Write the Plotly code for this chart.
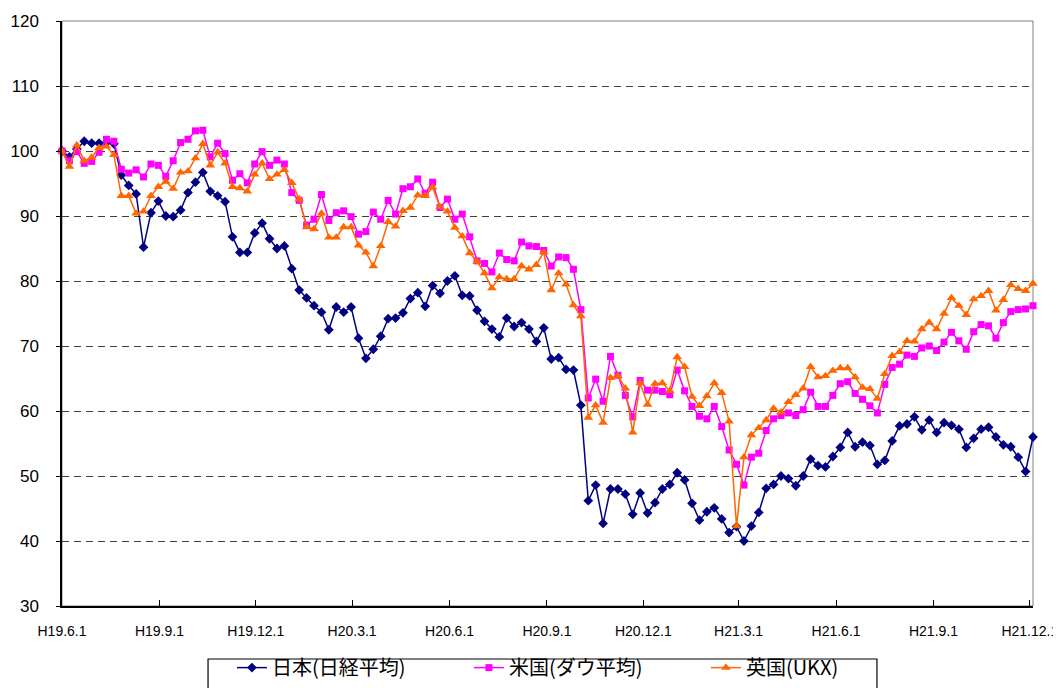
import pandas as pd
import plotly.graph_objects as go

start_date = "2007-06-01"
n_points = 132
dates = pd.date_range(start_date, periods=n_points, freq="7D")

nikkei = [100.0, 99.1, 100.3, 101.5, 101.2, 101.2, 101.3, 101.1, 96.3, 94.7,
          93.4, 85.2, 90.5, 92.3, 90.0, 89.9, 90.9, 93.6, 95.2, 96.7,
          93.8, 93.1, 92.2, 86.8, 84.4, 84.4, 87.4, 88.9, 86.5, 85.0,
          85.4, 81.9, 78.6, 77.4, 76.2, 75.2, 72.5, 76.0, 75.2, 76.0,
          71.2, 68.1, 69.5, 71.5, 74.2, 74.3, 75.1, 77.3, 78.2, 76.1,
          79.3, 78.1, 80.0, 80.8, 77.8, 77.7, 75.5, 73.8, 72.6, 71.4,
          74.3, 73.0, 73.6, 72.6, 70.7, 72.8, 68.0, 68.2, 66.4, 66.3,
          60.9, 46.2, 48.6, 42.7, 48.0, 48.0, 47.2, 44.1, 47.4, 44.3,
          45.9, 48.0, 48.7, 50.5, 49.4, 45.8, 43.2, 44.5, 45.1, 43.4,
          41.3, 42.2, 40.0, 42.3, 44.4, 48.1, 48.7, 50.0, 49.6, 48.5,
          50.0, 52.6, 51.6, 51.4, 53.0, 54.4, 56.7, 54.5, 55.2, 54.7,
          51.8, 52.4, 55.4, 57.7, 58.0, 59.1, 57.1, 58.6, 56.7, 58.2,
          57.8, 57.2, 54.4, 55.8, 57.2, 57.5, 56.0, 54.8, 54.5, 52.9,
          50.7, 56.0]

dow = [100.0, 98.5, 99.9, 98.1, 98.4, 99.8, 101.8, 101.5, 97.2, 96.6,
       97.1, 96.0, 98.0, 97.8, 96.1, 98.5, 101.3, 101.8, 103.1, 103.2,
       99.1, 101.2, 99.6, 95.5, 96.5, 95.1, 98.0, 99.9, 97.8, 98.6,
       98.0, 93.6, 92.4, 88.6, 89.5, 93.3, 89.3, 90.5, 90.8, 89.9,
       87.2, 87.6, 90.6, 89.5, 92.4, 90.3, 94.2, 94.5, 95.7, 93.5,
       95.2, 91.3, 92.6, 89.5, 90.3, 86.8, 83.1, 82.7, 81.4, 84.3,
       83.3, 83.1, 86.0, 85.4, 85.3, 84.7, 82.3, 83.7, 83.6, 81.8,
       75.6, 62.0, 64.9, 61.5, 68.4, 65.5, 62.4, 59.1, 64.7, 63.2,
       63.2, 63.0, 62.5, 66.3, 63.1, 60.7, 59.2, 58.8, 60.7, 57.6,
       54.0, 51.8, 48.6, 52.9, 53.5, 57.0, 58.8, 59.3, 59.7, 59.3,
       60.2, 62.9, 60.7, 60.7, 62.4, 64.2, 64.5, 62.7, 61.8, 60.8,
       59.7, 64.1, 66.7, 67.2, 68.6, 68.4, 69.7, 70.0, 69.3, 70.6,
       72.1, 70.8, 69.5, 72.2, 73.3, 73.1, 71.2, 73.6, 75.3, 75.6,
       75.7, 76.2]

ukx = [100.0, 97.6, 100.9, 98.5, 99.0, 100.5, 100.7, 99.4, 93.1, 93.1,
       90.4, 90.7, 93.1, 94.5, 95.3, 94.2, 96.7, 96.9, 98.9, 101.1,
       97.8, 99.8, 98.1, 94.5, 94.3, 93.8, 96.4, 98.1, 95.7, 96.4,
       97.1, 95.1, 92.6, 88.3, 88.0, 90.4, 86.7, 86.7, 88.3, 88.3,
       85.5, 84.4, 82.3, 85.4, 89.1, 88.4, 90.8, 91.3, 93.2, 93.1,
       94.4, 91.4, 90.7, 88.2, 86.9, 84.3, 83.0, 81.2, 78.9, 80.6,
       80.3, 80.3, 82.3, 81.8, 82.5, 84.4, 78.6, 81.2, 79.5, 76.3,
       74.6, 59.0, 60.9, 58.2, 65.1, 65.4, 63.5, 56.7, 64.3, 61.0,
       64.2, 64.3, 63.1, 68.3, 66.8, 62.2, 60.8, 62.3, 64.3, 62.8,
       58.4, 42.3, 52.9, 56.3, 57.4, 58.6, 60.4, 59.8, 61.4, 62.5,
       63.5, 66.8, 65.2, 65.4, 66.2, 66.6, 66.6, 65.2, 63.6, 63.4,
       61.9, 65.7, 68.5, 69.1, 70.8, 70.7, 72.6, 73.6, 72.6, 75.0,
       77.4, 76.2, 74.8, 77.2, 77.7, 78.5, 75.5, 77.1, 79.4, 78.8,
       78.5, 79.6]

tick_dates = ["2007-06-01", "2007-09-01", "2007-12-01", "2008-03-01", "2008-06-01",
              "2008-09-01", "2008-12-01", "2009-03-01", "2009-06-01", "2009-09-01",
              "2009-12-01"]
tick_labels = ["H19.6.1", "H19.9.1", "H19.12.1", "H20.3.1", "H20.6.1", "H20.9.1",
               "H20.12.1", "H21.3.1", "H21.6.1", "H21.9.1", "H21.12.1"]

series_names = ["日本(日経平均)", "米国(ダウ平均)", "英国(UKX)"]
colors = ["#000080", "#FF00FF", "#FF6600"]
symbols = ["diamond", "square", "triangle-up"]
sizes = [7.5, 7, 8.5]

fig = go.Figure()
for name, vals, col, sym, sz in zip(series_names, [nikkei, dow, ukx], colors, symbols, sizes):
    fig.add_trace(go.Scatter(
        x=dates, y=vals, name=name, mode="lines+markers",
        line=dict(color=col, width=1.5),
        marker=dict(symbol=sym, size=sz, color=col, line=dict(width=0)),
        cliponaxis=False,
    ))

FONT = "Liberation Sans, Arial, Noto Sans CJK JP, sans-serif"

# the page body adds an 8px offset, so the figure is 8px smaller on each axis
fig.update_layout(
    width=1053, height=680,
    margin=dict(l=54, r=28, t=13, b=82, autoexpand=False),
    paper_bgcolor="white", plot_bgcolor="white",
    font=dict(family=FONT, color="black"),
    showlegend=True,
    legend=dict(
        orientation="h", x=0.175, xanchor="left", y=-0.072, yanchor="top",
        borderwidth=0, bgcolor="rgba(0,0,0,0)",
        font=dict(size=20, family="Noto Sans CJK JP, Liberation Sans, sans-serif"),
        entrywidth=192, itemwidth=30,
    ),
    xaxis=dict(
        type="date", range=["2007-06-01", "2009-12-04"],
        tickmode="array", tickvals=tick_dates, ticktext=tick_labels,
        ticks="inside", ticklen=6, tickcolor="black",
        showline=True, linecolor="black", linewidth=1.5,
        showgrid=False, zeroline=False,
        tickfont=dict(size=14, family=FONT),
        ticklabelstandoff=11,
        automargin=False,
    ),
    yaxis=dict(
        range=[30, 120], dtick=10, tick0=30,
        ticks="outside", ticklen=4, tickcolor="black",
        showline=True, linecolor="black", linewidth=1.5,
        showgrid=True, gridcolor="#404040", gridwidth=1, griddash="7px,5px",
        zeroline=False,
        tickfont=dict(size=17, family=FONT),
        ticklabelstandoff=14,
        automargin=False,
    ),
    shapes=[
        dict(type="rect", xref="paper", yref="paper", x0=0, x1=1, y0=0, y1=1,
             line=dict(color="#808080", width=1), layer="below"),
        dict(type="rect", xref="paper", yref="paper", x0=0.1504, x1=0.8393,
             y0=-0.17, y1=-0.0906, line=dict(color="black", width=1.2)),
    ],
)

fig.write_html("out.html")
